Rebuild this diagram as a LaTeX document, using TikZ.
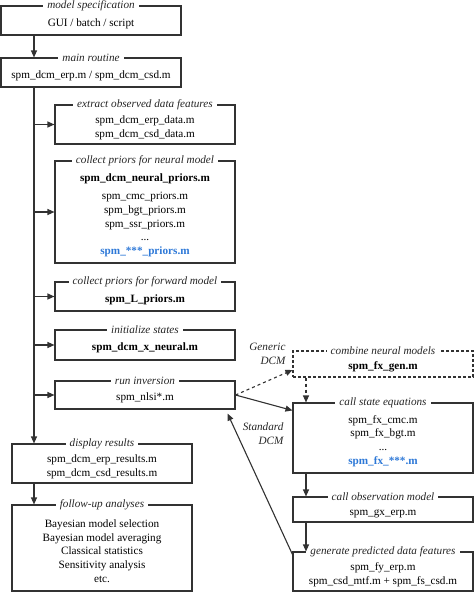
\documentclass[tikz,border=0pt]{standalone}
\usepackage{fontspec}
\setmainfont{Liberation Serif}
\usetikzlibrary{arrows.meta, calc}
\definecolor{fileblue}{RGB}{45,120,215}
\definecolor{boxgray}{RGB}{50,50,50}
\newcommand{\boxstrut}{\rule{0pt}{14pt}}

\begin{document}
\begin{tikzpicture}[x=1pt, y=-1pt,
    font=\fontsize{11.2}{13.7}\selectfont,
    box/.style={draw=boxgray, line width=1.1pt, minimum width=180pt, align=center, inner sep=2pt},
    dashbox/.style={box, dash pattern=on 3pt off 2pt},
    title/.style={fill=white, inner xsep=4pt, inner ysep=1pt, font=\fontsize{11.2}{13.7}\selectfont\itshape, text=black!85},
    side/.style={anchor=east, align=right, font=\fontsize{11.2}{13.7}\selectfont\itshape, text=black!85},
    arr/.style={-{Triangle[length=7pt,width=6pt]}, line width=1.1pt, draw=boxgray}]
    \useasboundingbox (0,0) rectangle (474,592);

    % left column
    \node[box, minimum height=29pt] (spec) at (91,20.5) {\boxstrut GUI / batch / script};
    \node[title] (spec_title) at (spec.north) {model specification};
    \node[box, minimum height=29pt] (main) at (91,72.5) {\boxstrut spm\_dcm\_erp.m / spm\_dcm\_csd.m};
    \node[title] (main_title) at (main.north) {main routine};

    \node[box, minimum height=39pt] (extract) at (145,124.5) {\boxstrut spm\_dcm\_erp\_data.m\\ spm\_dcm\_csd\_data.m};
    \node[title] (extract_title) at (extract.north) {extract observed data features};
    \node[box, minimum height=102pt] (neural) at (145,212) {\boxstrut\textbf{spm\_dcm\_neural\_priors.m}\\[5pt]
        spm\_cmc\_priors.m\\ spm\_bgt\_priors.m\\ spm\_ssr\_priors.m\\ ...\\
        \textcolor{fileblue}{\textbf{spm\_***\_priors.m}}};
    \node[title] (neural_title) at (neural.north) {collect priors for neural model};
    \node[box, minimum height=29pt] (forward) at (145,296.5) {\boxstrut\textbf{spm\_L\_priors.m}};
    \node[title] (forward_title) at (forward.north) {collect priors for forward model};
    \node[box, minimum height=30pt] (init) at (145,345) {\boxstrut\textbf{spm\_dcm\_x\_neural.m}};
    \node[title] (init_title) at (init.north) {initialize states};
    \node[box, minimum height=28pt] (inversion) at (145,395) {\boxstrut spm\_nlsi*.m};
    \node[title] (inversion_title) at (inversion.north) {run inversion};

    \node[box, minimum height=39pt] (display) at (102,463.5) {\boxstrut spm\_dcm\_erp\_results.m\\ spm\_dcm\_csd\_results.m};
    \node[title] (display_title) at (display.north) {display results};
    \node[box, minimum height=86pt] (followup) at (102,548) {\boxstrut Bayesian model selection\\ Bayesian model averaging\\
        Classical statistics\\ Sensitivity analysis\\ etc.};
    \node[title] (followup_title) at (followup.north) {follow-up analyses};

    % right column
    \node[dashbox, minimum height=26pt] (combine) at (383,364) {\boxstrut\textbf{spm\_fx\_gen.m}};
    \node[title] (combine_title) at (combine.north) {combine neural models};
    \node[box, minimum height=70pt] (state) at (383,438) {\boxstrut spm\_fx\_cmc.m\\ spm\_fx\_bgt.m\\ ...\\
        \textcolor{fileblue}{\textbf{spm\_fx\_***.m}}};
    \node[title] (state_title) at (state.north) {call state equations};
    \node[box, minimum height=25pt] (observation) at (383,509.5) {\boxstrut spm\_gx\_erp.m};
    \node[title] (observation_title) at (observation.north) {call observation model};
    \node[box, minimum height=39pt] (generate) at (383,571.5) {\boxstrut spm\_fy\_erp.m\\ spm\_csd\_mtf.m + spm\_fs\_csd.m};
    \node[title] (generate_title) at (generate.north) {generate predicted data features};

    \node[side] (generic) at (289,354) {Generic\\ DCM};
    \node[side] (standard) at (287,434) {Standard\\ DCM};

    \coordinate (trunk) at (34,87);
    \coordinate (rcol) at (306,380);

    \draw[arr] (spec.south -| trunk) -- (main.north -| trunk);
    \draw[arr] (trunk) -- (display.north -| trunk);
    \draw[arr] (extract.west -| trunk) -- (extract.west);
    \draw[arr] (neural.west -| trunk) -- (neural.west);
    \draw[arr] (forward.west -| trunk) -- (forward.west);
    \draw[arr] (init.west -| trunk) -- (init.west);
    \draw[arr] (inversion.west -| trunk) -- (inversion.west);
    \draw[arr] (display.south -| trunk) -- (followup.north -| trunk);

    \draw[arr, dashed] (inversion.east) -- ($(combine.west)+(0,6)$);
    \draw[arr] (inversion.east) -- ($(state.north west)+(0,8)$);
    \draw[arr, dashed] (combine.south -| rcol) -- (state.north -| rcol);
    \draw[arr] (state.south -| rcol) -- (observation.north -| rcol);
    \draw[arr] (observation.south -| rcol) -- (generate.north -| rcol);
    \draw[arr] ($(generate.north west)+(0,3)$) -- ($(inversion.south east)+(-8,4)$);
\end{tikzpicture}
\end{document}
